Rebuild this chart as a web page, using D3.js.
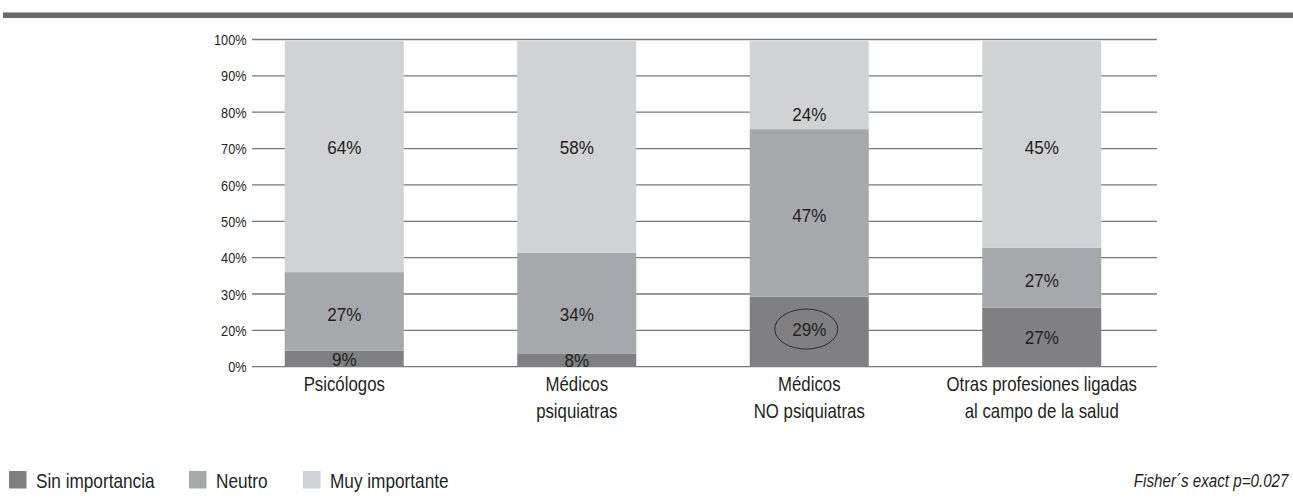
<!DOCTYPE html>
<html>
<head>
<meta charset="utf-8">
<script src="https://cdn.jsdelivr.net/npm/d3@7"></script>
<style>
  html, body { margin: 0; padding: 0; background: #ffffff; }
  svg { display: block; }
</style>
</head>
<body>
<svg id="chart" width="1293" height="504"></svg>
<script>
// ---------- data ----------
const categories = [
  ["Psicólogos"],
  ["Médicos", "psiquiatras"],
  ["Médicos", "NO psiquiatras"],
  ["Otras profesiones ligadas", "al campo de la salud"]
];
const seriesNames = ["Sin importancia", "Neutro", "Muy importante"];
// segment heights as drawn in the reference (share of full bar height)
const sinImportancia = [4.9, 3.9, 21.4, 18.0];
const neutro         = [24.0, 30.9, 51.2, 18.4];
const muyImportante  = [70.6, 64.7, 26.9, 63.1];
// printed percentage labels
const sinLabels  = [9, 8, 29, 27];
const neuLabels  = [27, 34, 47, 27];
const muyLabels  = [64, 58, 24, 45];
const yTickLabels = ["0%", "20%", "30%", "40%", "50%", "60%", "70%", "80%", "90%", "100%"];
const footnote = "Fisher´s exact p=0.027";

// ---------- layout ----------
const labelAt = [
  [2.3, 15.8, 67.1],
  [2.0, 16.0, 67.1],
  [11.5, 46.1, 77.2],
  [8.8, 26.3, 67.1]
];
const colors = ["#808083", "#a7a8ab", "#d1d2d4"];
const textColor = "#231f20";
const font = "'Liberation Sans', Arial, sans-serif";
const SQ = 0.82; // horizontal condensing for narrow text

const svg = d3.select("#chart");

// helper: condensed text
function ntext(g, x, y, str, size, anchor, opts) {
  opts = opts || {};
  const t = g.append("text")
    .attr("transform", `translate(${x},${y}) scale(${opts.sx || SQ},1)`)
    .attr("text-anchor", anchor)
    .attr("font-family", font)
    .attr("font-size", size)
    .attr("fill", textColor)
    .text(str);
  if (opts.dy) t.attr("dy", opts.dy);
  if (opts.italic) t.attr("font-style", "italic");
  return t;
}

// top banner
svg.append("rect").attr("x", 3).attr("y", 12).attr("width", 1290).attr("height", 6).attr("fill", "#6b6b6e");
svg.append("rect").attr("x", 3).attr("y", 12).attr("width", 1290).attr("height", 1).attr("fill", "#a9a9ab");

const x = d3.scaleBand()
  .domain(d3.range(categories.length))
  .range([228, 1158])
  .paddingInner(0.488)
  .paddingOuter(0.244);

const y = d3.scaleLinear().domain([0, 100]).range([366.7, 39.5]);

// gridlines (evenly spaced, labelled with the printed tick labels)
const tickPos = yTickLabels.map((t, i) => i * 100 / (yTickLabels.length - 1));
const grid = svg.append("g");
grid.selectAll("line").data(tickPos).join("line")
  .attr("x1", 252).attr("x2", 1157)
  .attr("y1", d => y(d)).attr("y2", d => y(d))
  .attr("stroke", "#78787a").attr("stroke-width", 1.3);
tickPos.forEach((d, i) => {
  ntext(grid, 246.5, y(d), yTickLabels[i], 15.5, "end", { dy: "0.36em" });
});

// stacked bars
const rows = categories.map((c, i) => ({ i, s0: sinImportancia[i], s1: neutro[i], s2: muyImportante[i] }));
const stack = d3.stack().keys(["s0", "s1", "s2"])(rows);
const bars = svg.append("g");
stack.forEach((layer, k) => {
  bars.selectAll(null).data(layer).join("rect")
    .attr("x", d => x(d.data.i))
    .attr("width", x.bandwidth())
    .attr("y", d => y(d[1]))
    .attr("height", d => y(d[0]) - y(d[1]))
    .attr("fill", colors[k]);
});

// value labels
const labelSets = [sinLabels, neuLabels, muyLabels];
const lbl = svg.append("g");
categories.forEach((c, i) => {
  labelSets.forEach((set, k) => {
    ntext(lbl, x(i) + x.bandwidth() / 2, y(labelAt[i][k]), set[i] + "%", 18, "middle", { dy: "0.36em", sx: 0.95 });
  });
});

// ellipse highlighting the "Sin importancia" value of the third group
svg.append("ellipse")
  .attr("cx", x(2) + x.bandwidth() / 2 - 3)
  .attr("cy", y(labelAt[2][0]))
  .attr("rx", 31.5).attr("ry", 20)
  .attr("fill", "none").attr("stroke", "#2b2b2b").attr("stroke-width", 1);

// category labels
const xl = svg.append("g");
categories.forEach((lines, i) => {
  lines.forEach((t, j) => {
    ntext(xl, x(i) + x.bandwidth() / 2, 390.5 + j * 27.5, t, 20.5, "middle");
  });
});

// legend
const legendX = [9, 189, 303];
const lg = svg.append("g");
seriesNames.forEach((n, k) => {
  lg.append("rect").attr("x", legendX[k]).attr("y", 471).attr("width", 17.5).attr("height", 17.5).attr("fill", colors[k]);
  ntext(lg, legendX[k] + 27, 488, n, 21, "start");
});

// footnote
ntext(svg, 1288.5, 486.5, footnote, 18.5, "end", { italic: true });
</script>
</body>
</html>
